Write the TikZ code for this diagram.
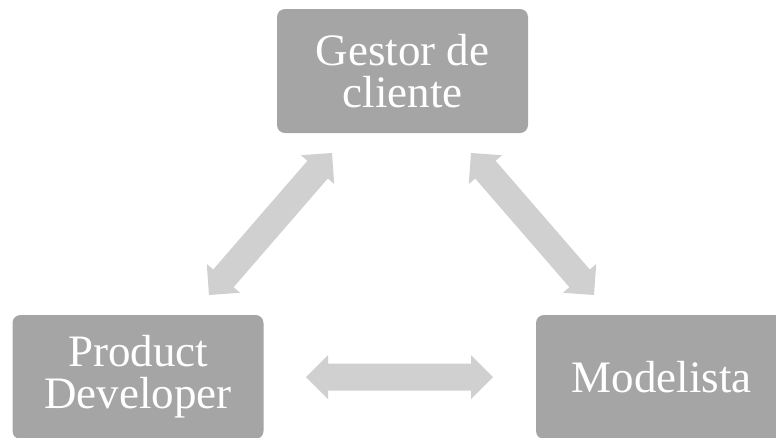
\documentclass[tikz,border=0pt]{standalone}
\usepackage{fontspec}
\setmainfont{Liberation Serif}
\usetikzlibrary{calc}
\definecolor{boxgray}{HTML}{A5A5A5}
\definecolor{arrgray}{HTML}{D0D0D0}
\newcommand\dblarr[2]{%
  \coordinate (hA) at ($(#1)!16.5pt!(#2)$);
  \coordinate (hB) at ($(#2)!16.5pt!(#1)$);
  \fill[arrgray] (#1) -- ($(hA)!16.5pt!90:(#2)$) -- ($(hA)!10.125pt!90:(#2)$)
    -- ($(hB)!10.125pt!-90:(#1)$) -- ($(hB)!16.5pt!-90:(#1)$) -- (#2)
    -- ($(hB)!16.5pt!90:(#1)$) -- ($(hB)!10.125pt!90:(#1)$)
    -- ($(hA)!10.125pt!-90:(#2)$) -- ($(hA)!16.5pt!-90:(#2)$) -- cycle;}
\tikzset{
  rolebox/.style={fill=boxgray, rounded corners=6pt, minimum width=188.25pt,
    minimum height=93pt, text=white, align=center, inner sep=0pt,
    font=\fontsize{33.75pt}{31.5pt}\selectfont}
}
\begin{document}
\begin{tikzpicture}[x=0.75pt,y=-0.75pt]
\useasboundingbox (0,0) rectangle (776,437);
\clip (0,0) rectangle (776,437);
\node[rolebox] (gestor) at (402.5,71) {Gestor de\\cliente};
\node[rolebox] (product) at (138,377) {Product\\Developer};
\node[rolebox] (modelista) at (661.5,377) {Modelista};
\coordinate (l1) at (332,153);
\coordinate (l2) at (209,295);
\coordinate (r1) at (471,153);
\coordinate (r2) at (594,295);
\coordinate (h1) at (306,377);
\coordinate (h2) at (493,377);
\dblarr{l1}{l2}
\dblarr{r1}{r2}
\dblarr{h1}{h2}
\end{tikzpicture}
\end{document}
